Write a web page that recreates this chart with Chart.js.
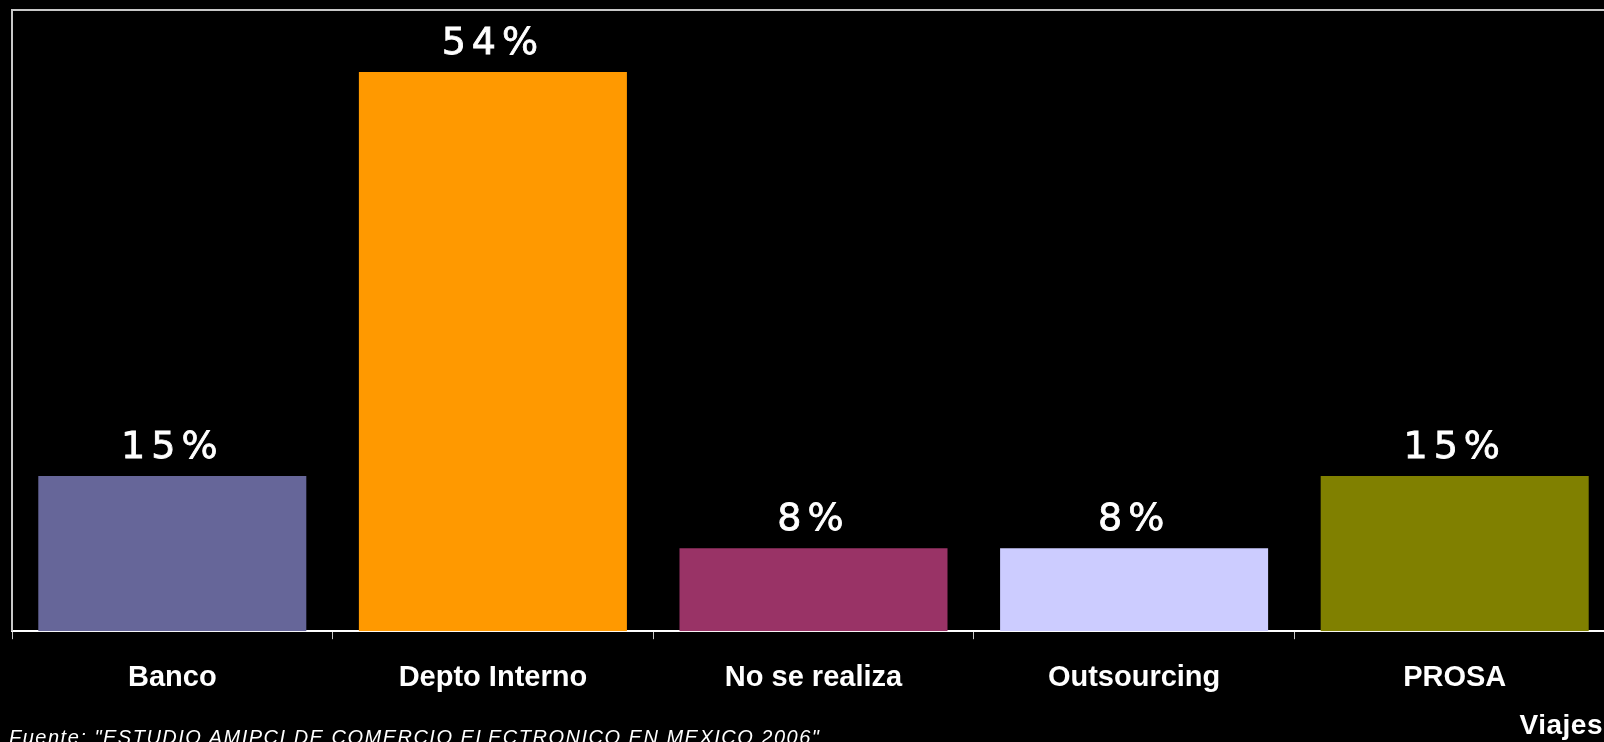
<!DOCTYPE html>
<html lang="es">
<head>
    <meta charset="UTF-8">
    <title>Viajes</title>
    <script src="https://cdn.jsdelivr.net/npm/chart.js"></script>
    <style>
        html, body {
            margin: 0;
            padding: 0;
            background: #000;
            overflow: hidden;
            width: 1604px;
            height: 742px;
        }
        .wrap {
            position: relative;
            width: 1604px;
            height: 742px;
        }
        #grafica {
            position: absolute;
            left: 0;
            top: 0;
        }
        .fuente {
            position: absolute;
            left: 9px;
            top: 726px;
            font-family: "Liberation Sans", Arial, sans-serif;
            font-style: italic;
            font-size: 20px;
            letter-spacing: 1.5px;
            color: #fff;
            white-space: nowrap;
        }
        .titulo {
            position: absolute;
            right: 1px;
            top: 709px;
            font-family: "Liberation Sans", Arial, sans-serif;
            font-weight: bold;
            font-size: 28px;
            letter-spacing: 0.5px;
            color: #fff;
        }
    </style>
</head>
<body>
    <div class="wrap">
        <canvas id="grafica" width="1630" height="742"></canvas>
        <div class="fuente">Fuente: "ESTUDIO AMIPCI DE COMERCIO ELECTRONICO EN MEXICO 2006"</div>
        <div class="titulo">Viajes</div>
    </div>

    <script>
        // categorías y porcentajes
        const categorias = ['Banco', 'Depto Interno', 'No se realiza', 'Outsourcing', 'PROSA'];
        const porcentajes = [15, 54, 8, 8, 15];
        const colores = ['#666699', '#FF9900', '#993366', '#CCCCFF', '#808000'];

        // etiquetas de valor encima de cada barra
        const etiquetasValor = {
            id: 'etiquetasValor',
            afterDatasetsDraw(chart) {
                const ctx = chart.ctx;
                const meta = chart.getDatasetMeta(0);
                ctx.save();
                ctx.fillStyle = '#fff';
                ctx.strokeStyle = '#fff';
                ctx.lineWidth = 0.8;
                ctx.font = '38px "DejaVu Sans", sans-serif';
                ctx.letterSpacing = '6px';
                ctx.textAlign = 'center';
                ctx.textBaseline = 'alphabetic';
                meta.data.forEach((bar, i) => {
                    const txt = porcentajes[i] + '%';
                    ctx.fillText(txt, bar.x, bar.y - 18);
                    ctx.strokeText(txt, bar.x, bar.y - 18);
                });
                ctx.restore();
            }
        };

        // marco: eje izquierdo y línea superior
        const marco = {
            id: 'marco',
            beforeDatasetsDraw(chart) {
                const { ctx, chartArea } = chart;
                ctx.save();
                ctx.lineWidth = 2;
                ctx.strokeStyle = '#c8c8c8';
                ctx.beginPath();
                ctx.moveTo(chartArea.left, chartArea.bottom);
                ctx.lineTo(chartArea.left, chartArea.top);
                ctx.lineTo(chartArea.right + 20, chartArea.top);
                ctx.stroke();
                ctx.restore();
            }
        };

        const ctx = document.getElementById('grafica').getContext('2d');
        new Chart(ctx, {
            type: 'bar',
            data: {
                labels: categorias,
                datasets: [{
                    data: porcentajes,
                    backgroundColor: colores,
                    borderWidth: 0,
                    barPercentage: 0.836,
                    categoryPercentage: 1
                }]
            },
            options: {
                responsive: false,
                animation: false,
                layout: {
                    padding: { left: 12, right: 15, top: 10, bottom: 26 }
                },
                plugins: {
                    legend: { display: false },
                    tooltip: { enabled: false }
                },
                scales: {
                    x: {
                        grid: {
                            drawOnChartArea: false,
                            tickLength: 8,
                            color: '#c8c8c8'
                        },
                        border: { color: '#ffffff', width: 2 },
                        ticks: {
                            color: '#fff',
                            autoSkip: false,
                            maxRotation: 0,
                            padding: 21,
                            font: { family: '"Liberation Sans", Arial, sans-serif', size: 29, weight: 'bold' }
                        }
                    },
                    y: {
                        display: false,
                        min: 0,
                        max: 60
                    }
                }
            },
            plugins: [marco, etiquetasValor]
        });
    </script>
</body>
</html>
